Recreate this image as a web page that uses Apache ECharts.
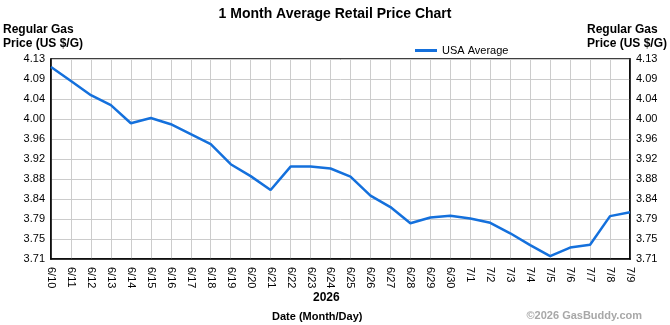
<!DOCTYPE html>
<html>
<head>
<meta charset="utf-8">
<script src="https://cdn.jsdelivr.net/npm/echarts@6/dist/echarts.min.js"></script>
<style>
  html, body { margin: 0; padding: 0; background: #fff; }
  #chart { width: 670px; height: 325px; }
</style>
</head>
<body>
<div id="chart"></div>
<script>
const dates = ["6/10", "6/11", "6/12", "6/13", "6/14", "6/15", "6/16", "6/17", "6/18", "6/19",
  "6/20", "6/21", "6/22", "6/23", "6/24", "6/25", "6/26", "6/27", "6/28", "6/29",
  "6/30", "7/1", "7/2", "7/3", "7/4", "7/5", "7/6", "7/7", "7/8", "7/9"];

const usaAverage = [4.113, 4.084, 4.054, 4.033, 3.995, 4.006, 3.993, 3.972, 3.951, 3.909,
  3.884, 3.855, 3.904, 3.904, 3.9, 3.883, 3.843, 3.819, 3.785, 3.797,
  3.801, 3.795, 3.786, 3.764, 3.739, 3.716, 3.734, 3.74, 3.8, 3.808];

const yTicks = [3.71, 3.752, 3.794, 3.836, 3.878, 3.92, 3.962, 4.004, 4.046, 4.088, 4.13];
const yLabels = ["3.71", "3.75", "3.79", "3.84", "3.88", "3.92", "3.96", "4.00", "4.04", "4.09", "4.13"];

const font = "Arial, 'Liberation Sans', sans-serif";

function tickLabel(v) {
  let best = 0;
  yTicks.forEach((t, i) => {
    if (Math.abs(t - v) < Math.abs(yTicks[best] - v)) best = i;
  });
  return yLabels[best];
}

function priceAxis(position) {
  return {
    type: "value",
    position: position,
    min: yTicks[0],
    max: yTicks[yTicks.length - 1],
    axisLine: { show: true, lineStyle: { color: "#000", width: 1.5 } },
    axisTick: { show: false, customValues: yTicks },
    axisLabel: {
      customValues: yTicks,
      formatter: tickLabel,
      color: "#000",
      fontFamily: font,
      fontSize: 11,
      margin: 6,
    },
    splitLine: {
      show: position === "left",
      lineStyle: { color: "#cccccc", width: 1 },
    },
  };
}

const chart = echarts.init(document.getElementById("chart"));

chart.setOption({
  animation: false,
  backgroundColor: "#fff",
  title: {
    text: "1 Month Average Retail Price Chart",
    left: "center",
    top: 2,
    textStyle: { fontFamily: font, fontSize: 14, fontWeight: "bold", color: "#000" },
  },
  legend: {
    data: ["USA Average"],
    left: 410,
    top: 40,
    itemWidth: 22,
    itemHeight: 3,
    icon: "rect",
    textStyle: { fontFamily: font, fontSize: 11, color: "#000" },
  },
  graphic: [
    {
      type: "text", left: 3, top: 23,
      style: { text: "Regular Gas\nPrice (US $/G)", font: "bold 12px " + font, fill: "#000", lineHeight: 14, align: "left" },
    },
    {
      type: "text", right: 3, top: 23,
      style: { text: "Regular Gas\nPrice (US $/G)", font: "bold 12px " + font, fill: "#000", lineHeight: 14, align: "right" },
    },
    {
      type: "text", left: 313, top: 292,
      style: { text: "2026", font: "bold 12px " + font, fill: "#000" },
    },
    {
      type: "text", left: 272, top: 311,
      style: { text: "Date (Month/Day)", font: "bold 11px " + font, fill: "#000" },
    },
    {
      type: "text", right: 28, top: 310,
      style: { text: "\u00a92026 GasBuddy.com", font: "bold 11px " + font, fill: "#a8a8a8" },
    },
  ],
  grid: { left: 51, right: 40, top: 59, bottom: 66, show: true, borderColor: "#000", borderWidth: 1.5 },
  xAxis: {
    type: "category",
    data: dates,
    boundaryGap: false,
    axisLine: { show: true, lineStyle: { color: "#000", width: 1.5 } },
    axisTick: { show: false },
    axisLabel: {
      rotate: -90,
      interval: 0,
      color: "#000",
      fontFamily: font,
      fontSize: 11,
      margin: 8,
    },
    splitLine: { show: true, interval: 0, lineStyle: { color: "#cccccc", width: 1 } },
  },
  yAxis: [priceAxis("left"), priceAxis("right")],
  series: [
    {
      name: "USA Average",
      type: "line",
      yAxisIndex: 0,
      data: usaAverage,
      symbol: "none",
      lineStyle: { color: "#1470dc", width: 2.5 },
      itemStyle: { color: "#1470dc" },
    },
  ],
});
</script>
</body>
</html>
